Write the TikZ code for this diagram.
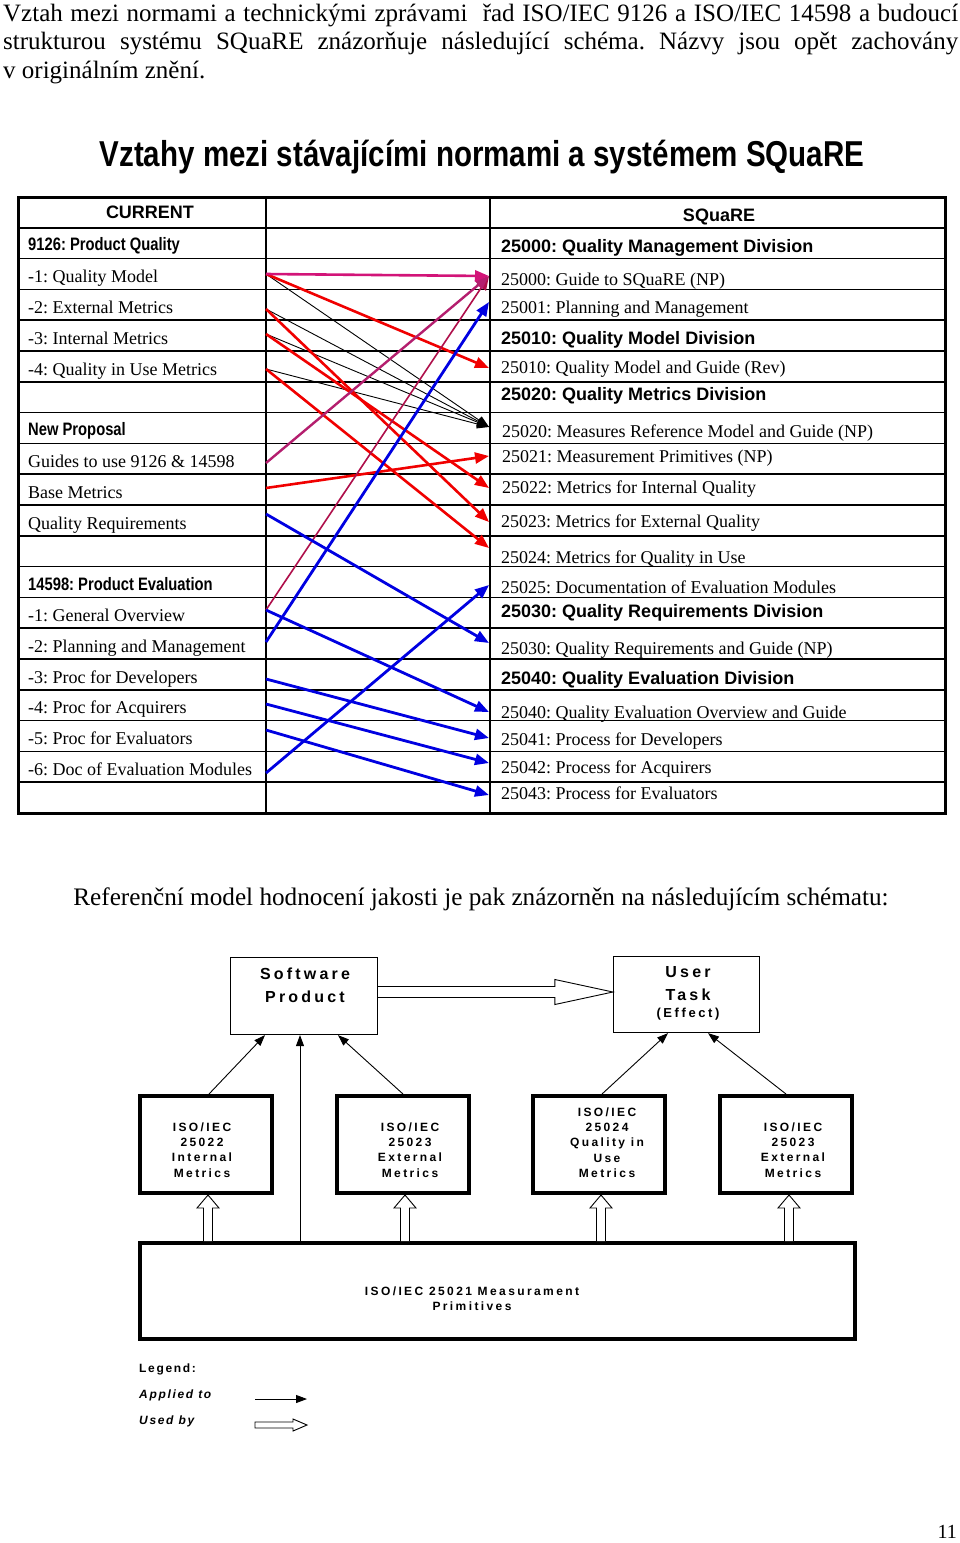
\documentclass[tikz,border=0pt]{standalone}
\usepackage{fontspec}
\setmainfont{Liberation Serif}
\newfontfamily\sans{Liberation Sans}
\newfontfamily\narrow{Liberation Sans}[FakeStretch=0.82]
\newfontfamily\spaced{Liberation Sans}[LetterSpace=20]
\newfontfamily\lspaced{Liberation Sans}[LetterSpace=14]
\usetikzlibrary{arrows.meta,calc}
\definecolor{mag}{RGB}{210,20,120}
\definecolor{vred}{RGB}{180,30,110}
\definecolor{crim}{RGB}{175,15,75}
\definecolor{ared}{RGB}{240,0,0}
\definecolor{ablue}{RGB}{0,0,225}
\frenchspacing
\begin{document}
\begin{tikzpicture}[x=1pt,y=-1pt,
  lt/.style={anchor=base west, inner sep=0, font=\fontsize{18}{20}\selectfont},
  ltb/.style={anchor=base west, inner sep=0, font=\narrow\bfseries\fontsize{18}{20}\selectfont},
  rtb/.style={anchor=base west, inner sep=0, font=\sans\bfseries\fontsize{18}{20}\selectfont},
  tline/.style={line width=1.5pt},
  head/.style={-{Triangle[length=14pt,width=11pt]}},
  blk/.style={line width=0.9pt, -{Triangle[length=12pt,width=9pt]}},
  redar/.style={line width=2.6pt, color=ared, head},
  bluar/.style={line width=2.8pt, color=ablue, head},
  thinbox/.style={draw, line width=1.2pt, inner sep=0},
  thickbox/.style={draw, line width=4pt, inner sep=0},
  bt/.style={font=\spaced\bfseries\fontsize{16}{23}\selectfont, align=center, inner sep=0},
  mt/.style={font=\spaced\bfseries\fontsize{12}{15.3}\selectfont, align=center, inner sep=0},
  lgt/.style={anchor=west, inner sep=0, font=\lspaced\bfseries\fontsize{12}{14}\selectfont},
  applied/.style={line width=0.9pt, -{Triangle[length=11pt,width=8pt]}},
  hollow/.style={line width=0.9pt, fill=white}
]
\useasboundingbox (0,0) rectangle (960,1543);
\fill[white] (0,0) rectangle (960,1543);

% intro paragraph
\node[anchor=base west, inner sep=0, font=\fontsize{25}{29}\selectfont] (p1) at (3,21)
  {\makebox[955pt][s]{Vztah mezi normami a technickými zprávami \ řad ISO/IEC 9126 a ISO/IEC 14598 a budoucí}};
\node[anchor=base west, inner sep=0, font=\fontsize{25}{29}\selectfont] (p2) at (3,49)
  {\makebox[955pt][s]{strukturou systému SQuaRE znázorňuje následující schéma. Názvy jsou opět zachovány}};
\node[anchor=base west, inner sep=0, font=\fontsize{25}{29}\selectfont] (p3) at (3,78)
  {v originálním znění.};

% title
\node[anchor=base, inner sep=0, font=\narrow\bfseries\fontsize{36}{40}\selectfont] (title) at (482,166)
  {Vztahy mezi stávajícími normami a systémem SQuaRE};

% table grid
\foreach \k in {1,...,19} \draw[tline] (18,{197+30.8*\k}) -- (945,{197+30.8*\k});
\draw[tline] (266,197) -- (266,813);
\draw[tline] (490,197) -- (490,813);
\draw[line width=3pt] (18,197) rectangle (945,813);

% left column
\node[rtb, anchor=base] (hcur) at (150,218) {CURRENT};
\node[ltb] (l9126) at (28,250) {9126: Product Quality};
\node[lt] (lqm) at (28,282) {-1: Quality Model};
\node[lt] (lext) at (28,313) {-2: External Metrics};
\node[lt] (lint) at (28,344) {-3: Internal Metrics};
\node[lt] (lqiu) at (28,375) {-4: Quality in Use Metrics};
\node[ltb] (lnp) at (28,435) {New Proposal};
\node[lt] (lgd) at (28,467) {Guides to use 9126 \& 14598};
\node[lt] (lbm) at (28,498) {Base Metrics};
\node[lt] (lqr) at (28,529) {Quality Requirements};
\node[ltb] (l14598) at (28,590) {14598: Product Evaluation};
\node[lt] (lgo) at (28,621) {-1: General Overview};
\node[lt] (lpm) at (28,652) {-2: Planning and Management};
\node[lt] (ldev) at (28,683) {-3: Proc for Developers};
\node[lt] (lacq) at (28,713) {-4: Proc for Acquirers};
\node[lt] (leva) at (28,744) {-5: Proc for Evaluators};
\node[lt] (ldoc) at (28,775) {-6: Doc of Evaluation Modules};

% right column
\node[rtb, anchor=base] (hsq) at (719,221) {SQuaRE};
\node[rtb] (r1) at (501,252) {25000: Quality Management Division};
\node[lt] (r2) at (501,285) {25000: Guide to SQuaRE (NP)};
\node[lt] (r3) at (501,313) {25001: Planning and Management};
\node[rtb] (r4) at (501,344) {25010: Quality Model Division};
\node[lt] (r5) at (501,373) {25010: Quality Model and Guide (Rev)};
\node[rtb] (r6) at (501,400) {25020: Quality Metrics Division};
\node[lt] (r7) at (502,437) {25020: Measures Reference Model and Guide (NP)};
\node[lt] (r8) at (502,462) {25021: Measurement Primitives (NP)};
\node[lt] (r9) at (502,493) {25022: Metrics for Internal Quality};
\node[lt] (r10) at (501,527) {25023: Metrics for External Quality};
\node[lt] (r11) at (501,563) {25024: Metrics for Quality in Use};
\node[lt] (r12) at (501,593) {25025: Documentation of Evaluation Modules};
\node[rtb] (r13) at (501,617) {25030: Quality Requirements Division};
\node[lt] (r14) at (501,654) {25030: Quality Requirements and Guide (NP)};
\node[rtb] (r15) at (501,684) {25040: Quality Evaluation Division};
\node[lt] (r16) at (501,718) {25040: Quality Evaluation Overview and Guide};
\node[lt] (r17) at (501,745) {25041: Process for Developers};
\node[lt] (r18) at (501,773) {25042: Process for Acquirers};
\node[lt] (r19) at (501,799) {25043: Process for Evaluators};

% connector end points
\coordinate (Lqm) at (266,274);
\coordinate (Lext) at (266,309);
\coordinate (Lint) at (266,334);
\coordinate (Lqiu) at (266,369);
\coordinate (Lgd) at (266,463);
\coordinate (Lbm) at (266,488);
\coordinate (Lqr) at (266,514);
\coordinate (Lgo) at (266,610);
\coordinate (Lpm) at (266,642);
\coordinate (Ldev) at (266,679);
\coordinate (Lacq) at (266,704);
\coordinate (Leva) at (266,730);
\coordinate (Ldoc) at (266,773);
\coordinate (Rg) at (489,276);
\coordinate (Rpm) at (489,302);
\coordinate (Rqm) at (489,368);
\coordinate (Rmr) at (489,427);
\coordinate (Rmp) at (489,456);
\coordinate (Rint) at (489,488);
\coordinate (Rext) at (489,522);
\coordinate (Rqiu) at (489,548);
\coordinate (Rdoc) at (489,585);
\coordinate (Rqr) at (489,643);
\coordinate (Rgo) at (489,712);
\coordinate (Rdev) at (489,738);
\coordinate (Racq) at (489,763);
\coordinate (Reva) at (489,795);

% black
\draw[blk] (Lqm) -- (Rmr);
\draw[blk] (Lext) -- (Rmr);
\draw[blk] (Lint) -- (Rmr);
\draw[blk] (Lqiu) -- (Rmr);
% red
\draw[redar] (Lqm) -- (Rqm);
\draw[redar] (Lext) -- (Rext);
\draw[redar] (Lint) -- (Rint);
\draw[redar] (Lqiu) -- (Rqiu);
\draw[redar] (Lbm) -- (Rmp);
% magenta
\draw[line width=1.6pt, crim, head] (Lgo) -- (Rg);
\draw[line width=2.4pt, vred, head] (Lgd) -- (Rg);
\draw[line width=2.6pt, mag, head] (Lqm) -- (Rg);
% blue
\draw[bluar] (Lpm) -- (Rpm);
\draw[bluar] (Lqr) -- (Rqr);
\draw[bluar] (Lgo) -- (Rgo);
\draw[bluar] (Ldoc) -- (Rdoc);
\draw[bluar] (Ldev) -- (Rdev);
\draw[bluar] (Lacq) -- (Racq);
\draw[bluar] (Leva) -- (Reva);

% second paragraph
\node[anchor=base, inner sep=0, font=\fontsize{25.2}{29}\selectfont] (p4) at (481,905)
  {Referenční model hodnocení jakosti je pak znázorněn na následujícím schématu:};

% quality model diagram
\node[thinbox, minimum width=147, minimum height=77] (sw) at (304,996) {};
\node[bt] (swt) at (305,985) {Software\\Product};
\node[thinbox, minimum width=146, minimum height=76] (ut) at (686.5,994.5) {};
\node[bt] (utt) at (688,984) {User\\Task};
\node[font=\spaced\bfseries\fontsize{13}{15}\selectfont, inner sep=0] (eff) at (688,1014) {(Effect)};

\node[thickbox, minimum width=132, minimum height=97] (m1) at (206,1144.5) {};
\node[thickbox, minimum width=132, minimum height=97] (m2) at (403,1144.5) {};
\node[thickbox, minimum width=132, minimum height=97] (m3) at (599,1144.5) {};
\node[thickbox, minimum width=132, minimum height=97] (m4) at (786,1144.5) {};
\node[mt] (m1t) at (202,1150) {ISO/IEC\\25022\\Internal\\Metrics};
\node[mt] (m2t) at (410,1150) {ISO/IEC\\25023\\External\\Metrics};
\node[mt] (m3t) at (607,1142.5) {ISO/IEC\\25024\\Quality in\\Use\\Metrics};
\node[mt] (m4t) at (793,1150) {ISO/IEC\\25023\\External\\Metrics};

\node[thickbox, minimum width=715, minimum height=96] (prim) at (497.5,1291) {};
\node[mt] (primt) at (472,1299) {ISO/IEC 25021 Measurament\\Primitives};

% big hollow arrow
\coordinate (hs) at ($(sw.east)+(0,-4)$);
\coordinate (he) at (hs -| ut.west);
\draw[hollow] ($(hs)+(0,-5.5)$) -- ($(he)+(-58,-5.5)$) -- ($(he)+(-58,-12.5)$) -- (he)
  -- ($(he)+(-58,12.5)$) -- ($(he)+(-58,5.5)$) -- ($(hs)+(0,5.5)$);

% applied-to arrows
\draw[applied] ($(m1.north)+(3,0)$) -- ($(sw.south)+(-39,0)$);
\draw[applied] (m2.north) -- ($(sw.south)+(34,0)$);
\coordinate (vt) at ($(sw.south)+(-4,0)$);
\draw[applied] (vt |- prim.north) -- (vt);
\draw[applied] ($(m3.north)+(3,0)$) -- ($(ut.south)+(-18.5,0)$);
\draw[applied] (m4.north) -- ($(ut.south)+(21.5,0)$);

% used-by hollow arrows
\foreach \m/\dx in {m1/2,m2/2,m3/2,m4/3} {
  \coordinate (ub) at ($(\m.south |- prim.north)+(\dx,0)$);
  \coordinate (ut\m) at ($(\m.south)+(\dx,0)$);
  \draw[hollow] ($(ub)+(-4.5,0)$) -- ($(ut\m)+(-4.5,13)$) -- ($(ut\m)+(-11,13)$) -- (ut\m)
    -- ($(ut\m)+(11,13)$) -- ($(ut\m)+(4.5,13)$) -- ($(ub)+(4.5,0)$);
}

% legend
\node[lgt] (lg) at (139,1369) {Legend:};
\node[lgt, font=\lspaced\bfseries\itshape\fontsize{12}{14}\selectfont] (lap) at (139,1395) {Applied to};
\node[lgt, font=\lspaced\bfseries\itshape\fontsize{12}{14}\selectfont] (lub) at (139,1421) {Used by};
\coordinate (la1) at (255,1399);
\coordinate (la2) at (307,1399);
\draw[applied] (la1) -- (la2);
\coordinate (lu1) at (255,1425);
\coordinate (lu2) at (307,1425);
\draw[hollow] ($(lu1)+(0,-3)$) -- ($(lu2)+(-14,-3)$) -- ($(lu2)+(-14,-6)$) -- (lu2)
  -- ($(lu2)+(-14,6)$) -- ($(lu2)+(-14,3)$) -- ($(lu1)+(0,3)$) -- cycle;

% page number
\node[anchor=base east, inner sep=0, font=\fontsize{20}{22}\selectfont] (pg) at (957,1538) {11};
\end{tikzpicture}
\end{document}
